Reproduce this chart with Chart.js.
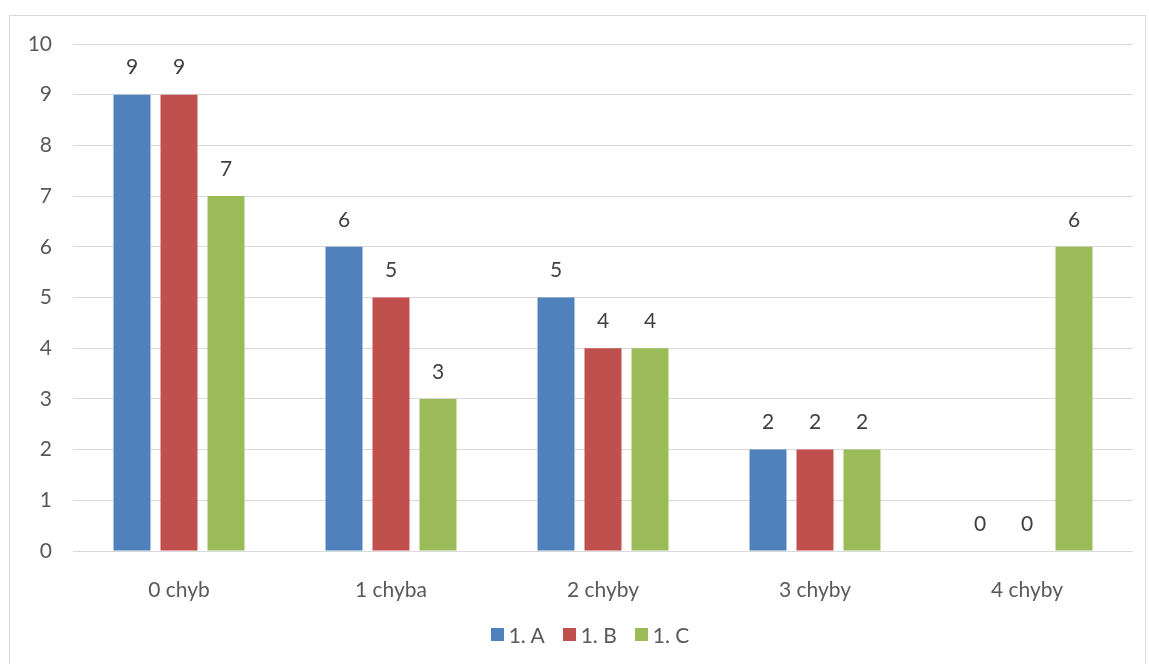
<!DOCTYPE html>
<html>
<head>
<meta charset="utf-8">
<script src="https://cdn.jsdelivr.net/npm/chart.js@4"></script>
<style>
  body { margin: 0; background: #fff; }
  #frame { position: absolute; left: 9px; top: 15px; width: 1137px; height: 660px; border: 1px solid #d9d9d9; box-sizing: border-box; }
  #wrap { position: absolute; left: 0; top: 0; width: 1149px; height: 664px; }
  #legend { position: absolute; left: 0; width: 1180px; top: 622px; display: flex; justify-content: center;
            font: 21px Lato, 'Open Sans', sans-serif; color: #595959; }
  #legend span.item { display: flex; align-items: center; margin: 0 9px; }
  #legend i { display: inline-block; width: 13px; height: 13px; margin-right: 5px; }
</style>
</head>
<body>
<div id="frame"></div>
<div id="wrap"><canvas id="chart"></canvas></div>
<div id="legend"></div>
<script>
const categories = ["0 chyb", "1 chyba", "2 chyby", "3 chyby", "4 chyby"];
const classA = [9, 6, 5, 2, 0];
const classB = [9, 5, 4, 2, 0];
const classC = [7, 3, 4, 2, 6];
const seriesNames = ["1. A", "1. B", "1. C"];
const colors = ["#4f81bd", "#c0504d", "#9bbb59"];

const FONT = "Lato, 'Open Sans', sans-serif";

// popisky hodnot nad sloupci
const valueLabels = {
  id: "valueLabels",
  afterDatasetsDraw(chart) {
    const ctx = chart.ctx;
    ctx.save();
    ctx.font = "21px " + FONT;
    ctx.fillStyle = "#404040";
    ctx.textAlign = "center";
    ctx.textBaseline = "middle";
    chart.data.datasets.forEach((ds, i) => {
      chart.getDatasetMeta(i).data.forEach((bar, j) => {
        ctx.fillText(ds.data[j], bar.x, bar.y - 27);
      });
    });
    ctx.restore();
  }
};

const chart = new Chart(document.getElementById("chart"), {
  type: "bar",
  data: {
    labels: categories,
    datasets: [
      { label: seriesNames[0], data: classA, backgroundColor: colors[0] },
      { label: seriesNames[1], data: classB, backgroundColor: colors[1] },
      { label: seriesNames[2], data: classC, backgroundColor: colors[2] }
    ]
  },
  options: {
    responsive: true,
    maintainAspectRatio: false,
    animation: false,
    categoryPercentage: 0.665,
    barPercentage: 0.787,
    layout: { padding: { left: 0, right: 16, top: 44, bottom: 55 } },
    scales: {
      x: {
        grid: { display: false },
        border: { display: false },
        ticks: { color: "#595959", font: { family: FONT, size: 21 }, padding: 19 },
        afterFit: s => { s.height = 58; }
      },
      y: {
        min: 0,
        max: 10,
        ticks: { stepSize: 1, color: "#595959", font: { family: FONT, size: 21 }, padding: 21 },
        grid: { color: "#d9d9d9", drawTicks: false },
        border: { display: false },
        afterFit: s => { s.width = 73; }
      }
    },
    plugins: {
      legend: { display: false },
      tooltip: { enabled: false }
    }
  },
  plugins: [valueLabels]
});

// legenda pod grafem
const legend = document.getElementById("legend");
chart.data.datasets.forEach(ds => {
  const item = document.createElement("span");
  item.className = "item";
  const box = document.createElement("i");
  box.style.background = ds.backgroundColor;
  item.appendChild(box);
  item.appendChild(document.createTextNode(ds.label));
  legend.appendChild(item);
});
</script>
</body>
</html>
